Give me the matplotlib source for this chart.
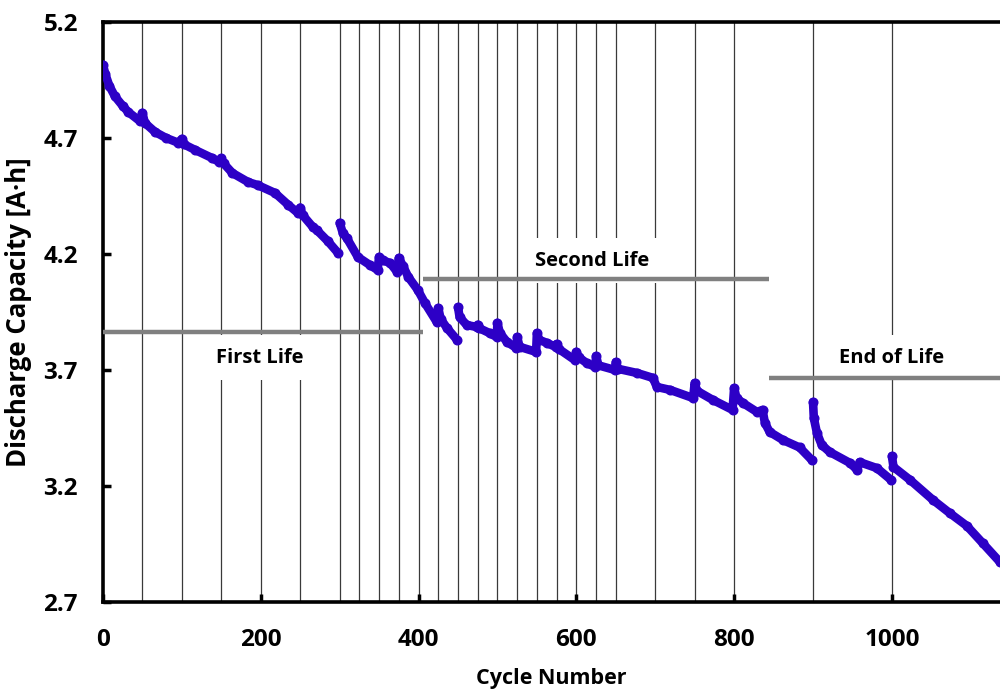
"""Capacidad de descarga frente a número de ciclos (primera y segunda vida)."""

import matplotlib

matplotlib.use("Agg")
import matplotlib.pyplot as plt

plt.rcParams["font.family"] = ["Open Sans", "DejaVu Sans"]

# Ciclos donde se interrumpe la prueba (líneas verticales)
pause_cycles = [50, 100, 150, 200, 250, 300, 325, 350, 375, 400, 425, 450, 475,
                500, 525, 550, 575, 600, 625, 650, 700, 750, 800, 900, 1000]

# Tramos de la curva
seg1_cycle = [0, 3, 8, 15, 25, 32, 47, 50, 53, 66, 80, 95, 100, 103, 117, 138,
              147, 150, 153, 164, 184, 196, 218, 235, 247, 250, 253, 266, 271,
              285, 298]
seg1_cap = [5.015, 4.975, 4.925, 4.880, 4.838, 4.812, 4.772, 4.808, 4.765, 4.726,
            4.700, 4.680, 4.696, 4.672, 4.648, 4.614, 4.597, 4.612, 4.590, 4.549,
            4.510, 4.497, 4.463, 4.411, 4.377, 4.400, 4.368, 4.316, 4.303, 4.255,
            4.204]

seg2_cycle = [300, 304, 309, 323, 338, 348, 350, 355, 364, 373, 375, 380, 387,
              399, 408, 423, 425, 428, 436, 449]
seg2_cap = [4.334, 4.290, 4.269, 4.187, 4.153, 4.131, 4.187, 4.172, 4.161, 4.122,
            4.183, 4.150, 4.101, 4.045, 3.989, 3.907, 3.967, 3.920, 3.881, 3.829]

seg3_cycle = [450, 452, 461, 474, 475, 477, 490, 499, 500, 503, 512, 524, 525,
              528, 549, 550, 553, 563, 574, 575, 578, 598, 600, 603, 613, 624,
              625, 628, 649, 650, 653, 677, 697, 702, 719, 748, 750, 753, 773,
              798, 800, 803, 811, 829, 836, 839, 845, 862, 883, 899]
seg3_cap = [3.971, 3.928, 3.894, 3.885, 3.895, 3.880, 3.859, 3.842, 3.903, 3.860,
            3.821, 3.795, 3.842, 3.800, 3.778, 3.859, 3.830, 3.816, 3.799, 3.812,
            3.790, 3.743, 3.778, 3.755, 3.730, 3.713, 3.760, 3.720, 3.700, 3.734,
            3.705, 3.687, 3.666, 3.627, 3.614, 3.579, 3.644, 3.610, 3.571, 3.528,
            3.622, 3.579, 3.558, 3.519, 3.528, 3.472, 3.433, 3.398, 3.366, 3.310]

seg4_cycle = [900, 901, 905, 911, 921, 947, 956, 959, 981, 999]
seg4_cap = [3.562, 3.493, 3.428, 3.377, 3.347, 3.299, 3.269, 3.303, 3.277, 3.226]

seg5_cycle = [1000, 1002, 1023, 1052, 1073, 1095, 1115, 1137]
seg5_cap = [3.329, 3.282, 3.226, 3.140, 3.084, 3.028, 2.954, 2.872]

# Etapas de vida: texto, extremos de la barra, nivel y posición del rótulo
stage_names = ["First Life", "Second Life", "End of Life"]
stage_start = [0, 405, 844]
stage_end = [405, 844, 1140]
stage_level = [3.865, 4.092, 3.666]
stage_text_x = [199, 620, 1000]
stage_text_y = [3.752, 4.170, 3.752]

x_ticks = [0, 200, 400, 600, 800, 1000]
y_ticks = [2.7, 3.2, 3.7, 4.2, 4.7, 5.2]

BLUE = "#2d00c6"

fig = plt.figure(figsize=(10, 6.93), dpi=100)
ax = fig.add_axes([0.103, 0.1313, 0.897, 0.837])

for c in pause_cycles:
    ax.axvline(c, color="#3a3a3a", linewidth=0.9, zorder=1)

for i, name in enumerate(stage_names):
    ax.plot([stage_start[i], stage_end[i]], [stage_level[i], stage_level[i]],
            color="#808080", linewidth=3.2, solid_capstyle="butt", zorder=3)
    ax.text(stage_text_x[i], stage_text_y[i], name, ha="center", va="center",
            fontsize=14.5, fontweight="bold", zorder=2,
            bbox=dict(facecolor="white", edgecolor="none", pad=9))

segments = [(seg1_cycle, seg1_cap), (seg2_cycle, seg2_cap), (seg3_cycle, seg3_cap),
            (seg4_cycle, seg4_cap), (seg5_cycle, seg5_cap)]
for cyc, cap in segments:
    ax.plot(cyc, cap, color=BLUE, linewidth=6.2, marker="o", markersize=6.2,
            solid_capstyle="round", solid_joinstyle="round", zorder=4)

ax.set_xlim(0, 1137)
ax.set_ylim(2.7, 5.2)
ax.set_xticks(x_ticks)
ax.set_yticks(y_ticks)
ax.set_yticklabels([f"{v:.1f}" for v in y_ticks])
ax.tick_params(direction="in", length=6, width=2.5, labelsize=17.5)
ax.tick_params(axis="x", pad=19)
ax.tick_params(axis="y", pad=18)
for lab in ax.get_xticklabels() + ax.get_yticklabels():
    lab.set_fontweight("bold")

for side in ["left", "bottom", "top"]:
    ax.spines[side].set_linewidth(2.6)
ax.spines["right"].set_visible(False)

ax.set_xlabel("Cycle Number", fontsize=15.5, fontweight="bold", labelpad=11)
ax.set_ylabel("Discharge Capacity [A·h]", fontsize=18.5, fontweight="bold", labelpad=8)

fig.savefig("out.png", dpi=100)
